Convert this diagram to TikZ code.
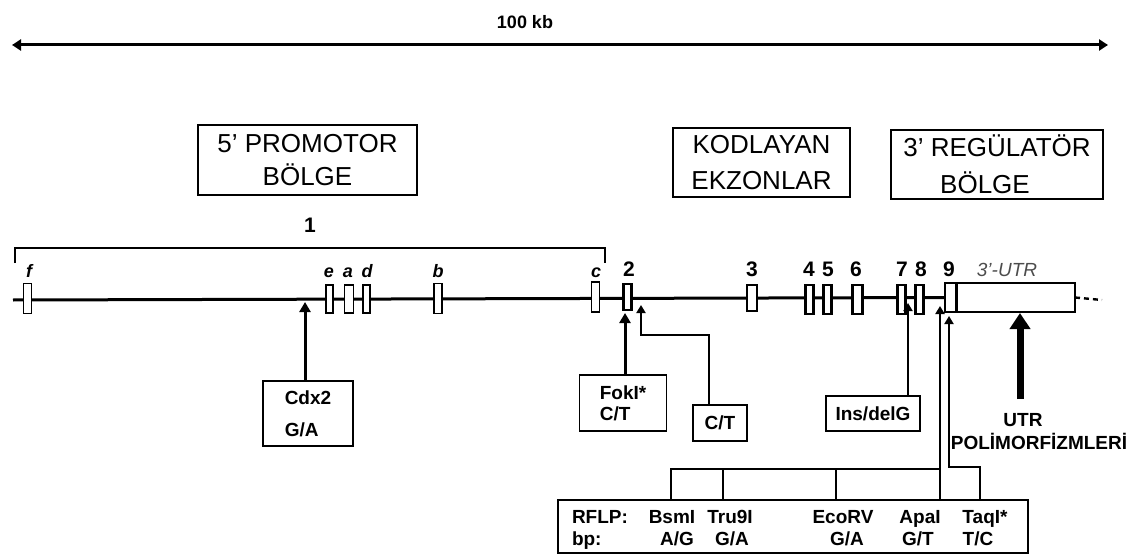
\documentclass[tikz,border=0pt]{standalone}
\usepackage{fontspec}
\setmainfont{Liberation Sans}
\usetikzlibrary{arrows.meta}
\begin{document}
\begin{tikzpicture}[x=1pt,y=-1pt,
  every node/.style={inner sep=0pt, outer sep=0pt},
  ex/.style={draw, fill=white, line width=1.4pt},
  exb/.style={draw, fill=white, line width=2.1pt},
  lbl/.style={anchor=base, font=\fontsize{18}{20}\selectfont\bfseries\itshape},
  num/.style={anchor=base, font=\fontsize{21}{22}\selectfont\bfseries},
  titlebox/.style={draw, line width=1.6pt, align=center},
  mbox/.style={draw, line width=1.7pt, font=\fontsize{19}{21}\selectfont\bfseries},
  rtxt/.style={anchor=base, font=\fontsize{19}{21}\selectfont\bfseries},
  arrA/.style={line width=3pt, -{Triangle[length=10pt,width=11pt]}},
  arrB/.style={line width=1.9pt, -{Triangle[length=8pt,width=9pt]}},
  conn/.style={line width=1.7pt}
]
\useasboundingbox (0,0) rectangle (1140,556);

% scale arrow
\coordinate (tl) at (12,45);
\coordinate (tr) at (1108,45);
\draw[line width=3pt, {Triangle[length=9pt,width=11pt]}-{Triangle[length=9pt,width=11pt]}] (tl) -- (tr);
\node[font=\fontsize{18}{20}\selectfont\bfseries] (kb) at (525,22) {100 kb};

% title boxes
\node[titlebox, minimum width=219pt, minimum height=70pt, font=\fontsize{26}{33}\selectfont] (prom) at (307.5,160) {5' PROMOTOR\\BÖLGE};
\node[titlebox, minimum width=177pt, minimum height=69pt, font=\fontsize{26}{36}\selectfont] (kod) at (761.5,162.5) {KODLAYAN\\EKZONLAR};
\node[titlebox, minimum width=212pt, minimum height=69pt, font=\fontsize{26}{37}\selectfont] (reg) at (997,164.5) {3' REGÜLATÖR\\BÖLGE\hspace*{24pt}};

% bracket
\node[num] (one) at (310,233) {1};
\coordinate (bl) at (15,263);
\coordinate (br) at (605,263);
\coordinate (btop) at (310,248);
\draw[line width=1.6pt] (bl) |- (btop) -| (br);

% main line
\coordinate (ml) at (13,300);
\coordinate (mr) at (1102,300);
\node[draw, fill=white, line width=1.6pt, minimum width=118pt, minimum height=29pt] (utr) at (1016,297.5) {};
\draw[line width=3pt] (ml) -- (utr.west);
\draw[line width=2.4pt, dash pattern=on 5pt off 4pt] (utr.east) -- (mr);

% exons
\node[ex, minimum width=8pt, minimum height=30pt] (xf) at (27.5,298.5) {};
\node[ex, minimum width=7pt, minimum height=28pt] (xe) at (329.5,299) {};
\node[ex, minimum width=9pt, minimum height=28pt] (xa) at (349,299) {};
\node[ex, minimum width=7pt, minimum height=28pt] (xd) at (366.5,299) {};
\node[ex, minimum width=8pt, minimum height=30pt] (xb) at (438,298.5) {};
\node[ex, minimum width=8pt, minimum height=30pt] (xc) at (595.5,297) {};
\node[exb, minimum width=8pt, minimum height=26pt] (x2) at (627.5,297) {};
\node[exb, minimum width=10pt, minimum height=26pt] (x3) at (752,298) {};
\node[exb, minimum width=8pt, minimum height=29pt] (x4) at (809.5,299.5) {};
\node[exb, minimum width=8pt, minimum height=29pt] (x5) at (827.5,299.5) {};
\node[exb, minimum width=10pt, minimum height=29pt] (x6) at (857.5,299.5) {};
\node[exb, minimum width=8pt, minimum height=29pt] (x7) at (901.5,299.5) {};
\node[exb, minimum width=8pt, minimum height=29pt] (x8) at (919.5,299.5) {};
\node[exb, minimum width=11pt, minimum height=29pt] (x9) at (950.5,297.5) {};

% exon labels
\node[lbl] (lf) at (29,277) {f};
\node[lbl] (le) at (329,277) {e};
\node[lbl] (la) at (348,277) {a};
\node[lbl] (ld) at (367,277) {d};
\node[lbl] (lb) at (438,277) {b};
\node[lbl] (lc) at (596,277) {c};
\node[num] (n2) at (629,276) {2};
\node[num] (n3) at (752,276) {3};
\node[num] (n4) at (809,276) {4};
\node[num] (n5) at (828,276) {5};
\node[num] (n6) at (856,276) {6};
\node[num] (n7) at (902,276) {7};
\node[num] (n8) at (921,276) {8};
\node[num] (n9) at (949,276) {9};
\node[lbl, text=black!70, font=\fontsize{19}{20}\selectfont\itshape] (lutr) at (1007,276) {3'-UTR};

% polymorphism boxes
\node[mbox, minimum width=90pt, minimum height=65pt, align=left, font=\fontsize{19}{32}\selectfont\bfseries] (cdx) at (308,413.5) {Cdx2\\G/A};
\node[mbox, minimum width=87pt, minimum height=56pt, align=left, font=\fontsize{19}{21}\selectfont\bfseries] (fok) at (623,403) {FokI*\\C/T};
\node[mbox, minimum width=54pt, minimum height=36pt] (ct) at (720,423) {C/T};
\node[mbox, minimum width=94pt, minimum height=35pt] (ins) at (873,413.5) {Ins/delG};
\node[draw, line width=2.6pt, minimum width=470pt, minimum height=53pt] (rflp) at (793,526.5) {};

% RFLP texts
\node[rtxt, anchor=base west] (r1) at (572,523) {RFLP:};
\node[rtxt, anchor=base west] (r2) at (572,545) {bp:};
\node[rtxt] (bsm) at (672,523) {BsmI};
\node[rtxt] (bsm2) at (677,545) {A/G};
\node[rtxt] (tru) at (730,523) {Tru9I};
\node[rtxt] (tru2) at (732,545) {G/A};
\node[rtxt] (eco) at (843,523) {EcoRV};
\node[rtxt] (eco2) at (847,545) {G/A};
\node[rtxt] (apa) at (920,523) {ApaI};
\node[rtxt] (apa2) at (918,545) {G/T};
\node[rtxt] (taq) at (985,523) {TaqI*};
\node[rtxt] (taq2) at (978,545) {T/C};

% connectors
\coordinate (cdxT) at (305,302);
\draw[arrA] (cdx.north -| cdxT) -- (cdxT);
\coordinate (fokT) at (625,313);
\draw[arrA] (fok.north -| fokT) -- (fokT);
\coordinate (ctT) at (641,305);
\coordinate (ctK) at (709,335);
\draw[arrB] (ct.north -| ctK) -- (ctK) -| (ctT);
\coordinate (insT) at (908,303);
\draw[arrB] (ins.north -| insT) -- (insT);
\coordinate (apaT) at (940,306);
\draw[arrB, line width=2.3pt] (rflp.north -| apaT) -- (apaT);
\coordinate (brJ) at (940,469);
\coordinate (brL) at (671,469);
\coordinate (brT) at (723,469);
\coordinate (brE) at (836,469);
\draw[conn] (brJ) -- (brL) -- (rflp.north -| brL);
\draw[conn] (brT) -- (rflp.north -| brT);
\draw[conn] (brE) -- (rflp.north -| brE);
\coordinate (taqT) at (949,316);
\coordinate (taqK) at (980,467);
\draw[arrB] (rflp.north -| taqK) -- (taqK) -| (taqT);

% UTR arrow
\coordinate (utrT) at (1020,313);
\coordinate (utrB) at (1020,399);
\draw[line width=7pt, -{Triangle[length=16pt,width=20pt]}] (utrB) -- (utrT);
\node[align=center, font=\fontsize{19}{23}\selectfont\bfseries] (utrlab) at (1039,431.5) {UTR\hspace*{32pt}\\POLİMORFİZMLERİ};
\end{tikzpicture}
\end{document}
